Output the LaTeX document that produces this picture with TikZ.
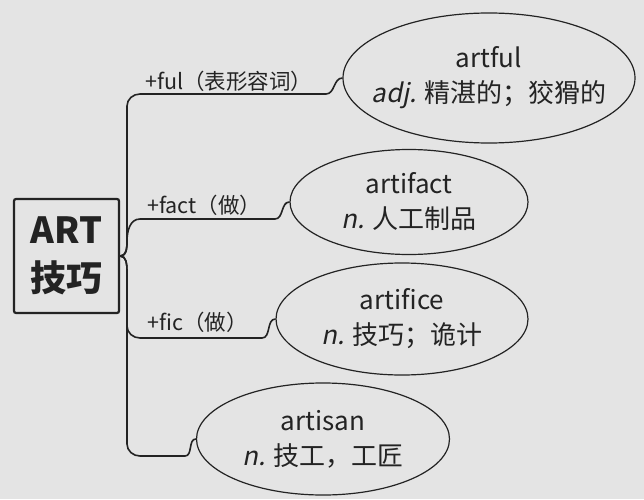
\documentclass[tikz,border=0pt]{standalone}
\usepackage{fontspec}
\setmainfont{Noto Sans CJK SC}[AutoFakeSlant=0.2]
\usepackage{tikz}
\usepackage{xcolor}
\usetikzlibrary{shapes.geometric, positioning}
\definecolor{pagebg}{RGB}{228,228,228}
\definecolor{inkcolor}{RGB}{35,35,35}

\begin{document}
\begin{tikzpicture}[
  x=1pt, y=1pt,
  every node/.style={align=center, text=inkcolor},
  rootbox/.style={
    draw=inkcolor, line width=2.2pt, rounded corners=2pt,
    minimum width=105pt, minimum height=114pt, inner sep=0pt,
    font=\fontsize{36}{48}\selectfont\bfseries
  },
  wordbox/.style={
    ellipse, draw=inkcolor, line width=1.2pt,
    inner xsep=-30pt, inner ysep=0pt,
    font=\fontsize{26}{35}\selectfont
  },
  affix/.style={anchor=west, inner sep=0pt, font=\fontsize{21.5}{24}\selectfont},
  branch/.style={draw=inkcolor, line width=1.6pt},
]

%% ─── Page ────────────────────────────────────────────────────────────────────

\fill[pagebg] (0,0) rectangle (644,499);
\useasboundingbox (0,0) rectangle (644,499);

%% ─── Root word ───────────────────────────────────────────────────────────────

\node[rootbox] (root) at (66.5,243) {ART\\技巧};

%% ─── Derived words ───────────────────────────────────────────────────────────

\node[wordbox, minimum width=292pt, minimum height=130pt] (ful)  at (489,421)
  {artful\\\textit{adj.} 精湛的；狡猾的};
\node[wordbox, minimum width=238pt, minimum height=105pt] (fact) at (409,297)
  {artifact\\\textit{n.} 人工制品};
\node[wordbox, minimum width=252pt, minimum height=112pt] (fice) at (402,180)
  {artifice\\\textit{n.} 技巧；诡计};
\node[wordbox, minimum width=253pt, minimum height=112pt] (san)  at (323,60)
  {artisan\\\textit{n.} 技工，工匠};

%% ─── Branches (trunk runs down at x=127) ─────────────────────────────────────

\draw[branch] (root.east) to[out=0,in=-90] (127,262) -- (127,393)
  to[out=90,in=180] (140,405) -- (326,405) to[out=0,in=180] (ful.west);
\draw[branch] (root.east) to[out=0,in=-90] (127,258)
  to[out=90,in=180] (140,280) -- (275,280) to[out=0,in=180] (fact.west);
\draw[branch] (root.east) to[out=0,in=90] (127,228) -- (127,173)
  to[out=-90,in=180] (140,161) -- (262,161) to[out=0,in=180] (fice.west);
\draw[branch] (root.east) to[out=0,in=90] (127,228) -- (127,55)
  to[out=-90,in=180] (140,43) -- (185,43) to[out=0,in=180] (san.west);

%% ─── Affix labels ────────────────────────────────────────────────────────────

\node[affix] (lful)  at (145,418) {+ful（表形容词）};
\node[affix] (lfact) at (147,294) {+fact（做）};
\node[affix] (lfic)  at (147,177) {+fic（做）};

\end{tikzpicture}
\end{document}
